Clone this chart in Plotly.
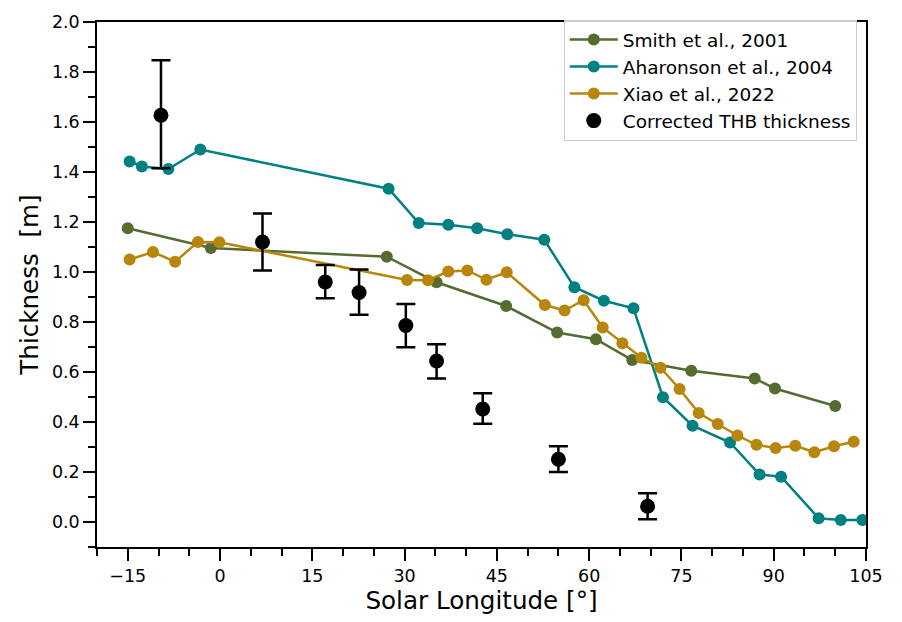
import plotly.graph_objects as go

# ---- data ----
smith_x = [-15, -1.5, 27.1, 35.2, 46.5, 54.8, 61.1, 67.0, 76.6, 86.9, 90.2, 100.0]
smith_y = [1.175, 1.096, 1.061, 0.959, 0.864, 0.758, 0.731, 0.648, 0.605, 0.574, 0.534, 0.464]

ahar_x = [-14.7, -12.7, -8.4, -3.2, 27.4, 32.3, 37.1, 41.8, 46.7, 52.7, 57.6, 62.4, 67.2,
          72.0, 76.8, 82.9, 87.7, 91.2, 97.3, 100.9, 104.4]
ahar_y = [1.442, 1.422, 1.412, 1.490, 1.333, 1.196, 1.189, 1.175, 1.151, 1.129, 0.939, 0.885, 0.855,
          0.499, 0.385, 0.318, 0.190, 0.181, 0.015, 0.008, 0.008]

xiao_x = [-14.7, -10.9, -7.3, -3.6, -0.1, 30.4, 33.8, 37.1, 40.2, 43.3, 46.6, 52.8, 56.0, 59.1,
          62.2, 65.4, 68.5, 71.6, 74.7, 77.8, 80.9, 84.1, 87.2, 90.3, 93.5, 96.6, 99.8, 103.0]
xiao_y = [1.050, 1.080, 1.041, 1.120, 1.119, 0.968, 0.967, 1.002, 1.006, 0.969, 0.999, 0.868, 0.846, 0.887,
          0.778, 0.715, 0.657, 0.617, 0.532, 0.436, 0.392, 0.346, 0.309, 0.296, 0.305, 0.279, 0.303, 0.321]

thb_x = [-9.6, 6.9, 17.1, 22.6, 30.2, 35.2, 42.7, 55.0, 69.5]
thb_y = [1.627, 1.120, 0.960, 0.918, 0.786, 0.644, 0.452, 0.251, 0.063]
thb_err_plus = [0.220, 0.114, 0.068, 0.092, 0.086, 0.067, 0.063, 0.052, 0.052]
thb_err_minus = [0.212, 0.114, 0.065, 0.089, 0.087, 0.070, 0.059, 0.051, 0.052]

x_ticks = [-15, 0, 15, 30, 45, 60, 75, 90, 105]
y_ticks = [0.0, 0.2, 0.4, 0.6, 0.8, 1.0, 1.2, 1.4, 1.6, 1.8, 2.0]

names = ["Smith et al., 2001", "Aharonson et al., 2004", "Xiao et al., 2022", "Corrected THB thickness"]
colors = ["#556B2F", "#008080", "#B8860B", "black"]

FONT = "DejaVu Sans"

fig = go.Figure()
for i, (xs, ys) in enumerate([(smith_x, smith_y), (ahar_x, ahar_y), (xiao_x, xiao_y)]):
    fig.add_trace(go.Scatter(
        x=xs, y=ys, mode="lines+markers", name=names[i], legendgroup=f"g{i}",
        line=dict(color=colors[i], width=2.5),
        marker=dict(color=colors[i], size=12),
    ))

fig.add_trace(go.Scatter(
    x=thb_x, y=thb_y, mode="markers", name=names[3], legendgroup="g3",
    marker=dict(color="black", size=15),
    error_y=dict(type="data", array=thb_err_plus, arrayminus=thb_err_minus,
                 color="black", thickness=2.5, width=9.5),
))

axis_common = dict(
    showline=True, linecolor="black", linewidth=1.5, mirror=True,
    ticks="outside", ticklen=12, tickwidth=1.5, tickcolor="black",
    showgrid=False, zeroline=False,
    tickfont=dict(family=FONT, size=17.5, color="black"),
)

fig.update_xaxes(
    range=[-20, 105], tickmode="array", tickvals=x_ticks,
    title=dict(text="Solar Longitude [°]", font=dict(family=FONT, size=24.6, color="black"), standoff=6),
    minor=dict(ticks="outside", ticklen=7, tickwidth=1.5, tickcolor="black", dtick=5, tick0=0),
    **axis_common,
)
fig.update_yaxes(
    range=[-0.1, 2.0], tickmode="array", tickvals=y_ticks, ticktext=[f"{v:.1f}" for v in y_ticks],
    title=dict(text="Thickness\u00a0\u00a0[m]", font=dict(family=FONT, size=24.6, color="black"), standoff=6),
    minor=dict(ticks="outside", ticklen=7, tickwidth=1.5, tickcolor="black", dtick=0.1, tick0=0),
    **axis_common,
)

fig.update_layout(
    width=902, height=622,
    margin=dict(l=97, r=36, t=12, b=75),
    plot_bgcolor="white", paper_bgcolor="white",
    font=dict(family=FONT, size=17.5, color="black"),
    legend=dict(
        x=0.988, y=1.004, xanchor="right", yanchor="top",
        bgcolor="rgba(255,255,255,0.8)", bordercolor="#cccccc", borderwidth=1,
        font=dict(family=FONT, size=18.5, color="black"),
        itemwidth=48, tracegroupgap=0,
    ),
)

fig.write_html("out.html")
